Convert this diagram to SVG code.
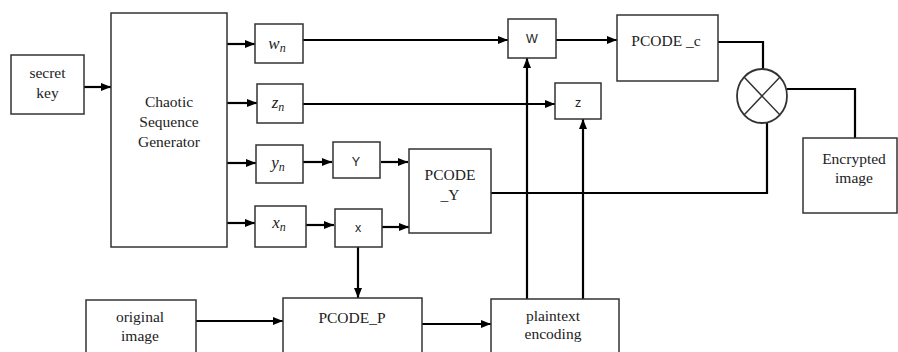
<svg xmlns="http://www.w3.org/2000/svg" width="898" height="352" viewBox="0 0 898 352">
<style>
.box{fill:#fff;stroke:#333;stroke-width:1.5}
.t{font-family:"Liberation Serif","Times New Roman","DejaVu Serif",serif;font-size:15.5px;fill:#222;text-anchor:middle}
.m{font-family:"Liberation Serif","Times New Roman","DejaVu Serif",serif;font-style:italic;font-size:17px;fill:#222;text-anchor:middle}
.s{font-family:"Liberation Sans",sans-serif;font-size:12.5px;fill:#222;text-anchor:middle}
.c{fill:none;stroke:#000;stroke-width:2.2}
</style>
<defs>
<marker id="ah" markerWidth="10" markerHeight="8" refX="10" refY="4" orient="auto" markerUnits="userSpaceOnUse"><path d="M0,0 L10,4 L0,8 z" fill="#000"/></marker>
</defs>
<rect width="898" height="352" fill="#fff"/>
<g id="connectors">
<path class="c" d="M84,87 H111" marker-end="url(#ah)"/>
<path class="c" d="M227,44 H255" marker-end="url(#ah)"/>
<path class="c" d="M227,103 H257" marker-end="url(#ah)"/>
<path class="c" d="M227,163 H256" marker-end="url(#ah)"/>
<path class="c" d="M227,223 H255" marker-end="url(#ah)"/>
<path class="c" d="M303,40 H508" marker-end="url(#ah)"/>
<path class="c" d="M556,40 H617" marker-end="url(#ah)"/>
<path class="c" d="M303,104 H555" marker-end="url(#ah)"/>
<path class="c" d="M303,162 H332" marker-end="url(#ah)"/>
<path class="c" d="M381,162 H408" marker-end="url(#ah)"/>
<path class="c" d="M306,225 H334" marker-end="url(#ah)"/>
<path class="c" d="M382,227 H409" marker-end="url(#ah)"/>
<path class="c" d="M358,247 V298" marker-end="url(#ah)"/>
<path class="c" d="M196,321 H283" marker-end="url(#ah)"/>
<path class="c" d="M422,324 H491" marker-end="url(#ah)"/>
<path class="c" d="M527,299 V58" marker-end="url(#ah)"/>
<path class="c" d="M583,299 V119" marker-end="url(#ah)"/>
<path class="c" d="M718,42 H763 V69"/>
<path class="c" d="M787,89 H855 V138"/>
<path class="c" d="M491,193 H767 V123"/>
</g>
<g id="secret-key"><rect class="box" x="11" y="55" width="73" height="59"/><text class="t" x="47.5" y="78">secret</text><text class="t" x="47.5" y="98">key</text></g>
<g id="chaotic"><rect class="box" x="111" y="13" width="116" height="234"/><text class="t" x="169" y="107">Chaotic</text><text class="t" x="169" y="127">Sequence</text><text class="t" x="169" y="147">Generator</text></g>
<g id="wn"><rect class="box" x="255" y="24" width="48" height="39"/><text class="m" x="277" y="49">w<tspan font-size="12" dy="3">n</tspan></text></g>
<g id="zn"><rect class="box" x="257" y="84" width="46" height="39"/><text class="m" x="278" y="108">z<tspan font-size="12" dy="3">n</tspan></text></g>
<g id="yn"><rect class="box" x="256" y="145" width="47" height="38"/><text class="m" x="278" y="168">y<tspan font-size="12" dy="3">n</tspan></text></g>
<g id="xn"><rect class="box" x="255" y="206" width="51" height="41"/><text class="m" x="279" y="228">x<tspan font-size="12" dy="3">n</tspan></text></g>
<g id="W"><rect class="box" x="508" y="19" width="48" height="39"/><text class="s" x="532" y="43">W</text></g>
<g id="Z"><rect class="box" x="555" y="83" width="46" height="36"/><text class="s" x="578" y="107">z</text></g>
<g id="Y"><rect class="box" x="333" y="142" width="47" height="36"/><text class="s" x="356" y="166">Y</text></g>
<g id="X"><rect class="box" x="335" y="209" width="47" height="38"/><text class="s" x="358" y="232">x</text></g>
<g id="pcode-y"><rect class="box" x="409" y="149" width="82" height="84"/><text class="t" x="450" y="180">PCODE</text><text class="t" x="450" y="200">_Y</text></g>
<g id="pcode-c"><rect class="box" x="617" y="15" width="101" height="66"/><text class="t" x="666" y="46">PCODE _c</text></g>
<g id="multiplier"><ellipse cx="762" cy="96" rx="25" ry="27" fill="#fff" stroke="#333" stroke-width="1.8"/><path d="M744,77 L780,115 M780,77 L744,115" stroke="#333" stroke-width="1.5" fill="none"/></g>
<g id="encrypted"><rect class="box" x="803" y="138" width="94" height="75"/><text class="t" x="854" y="164">Encrypted</text><text class="t" x="854" y="183">image</text></g>
<g id="original"><rect class="box" x="86" y="300" width="110" height="60"/><text class="t" x="140" y="322">original</text><text class="t" x="140" y="341">image</text></g>
<g id="pcode-p"><rect class="box" x="283" y="298" width="139" height="62"/><text class="t" x="352" y="323">PCODE_P</text></g>
<g id="plaintext"><rect class="box" x="491" y="299" width="128" height="61"/><text class="t" x="553" y="321">plaintext</text><text class="t" x="553" y="339">encoding</text></g>
</svg>
